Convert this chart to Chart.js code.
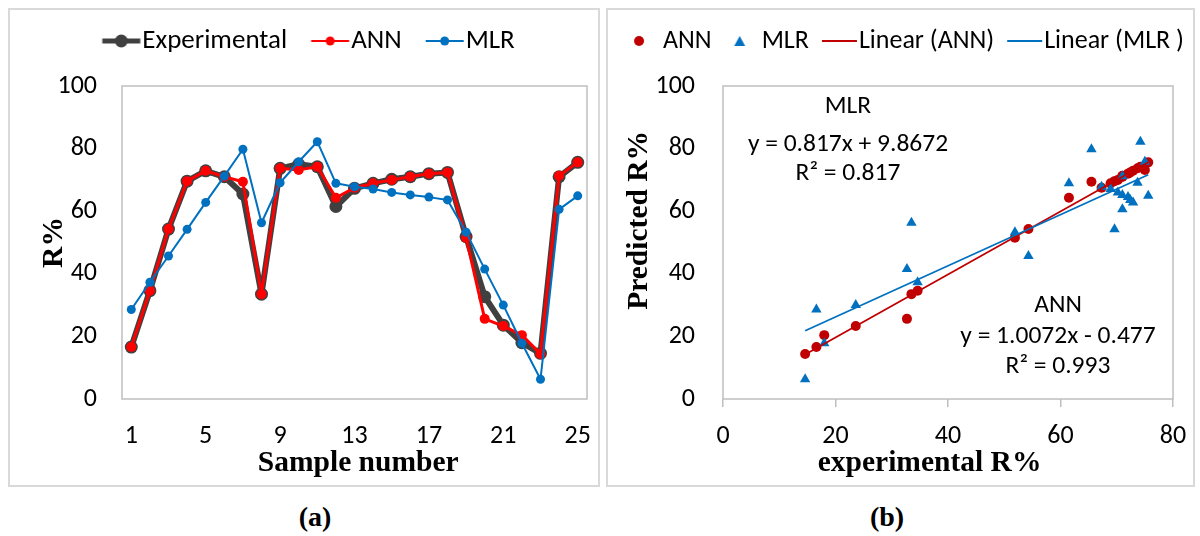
<!DOCTYPE html>
<html>
<head>
<meta charset="utf-8">
<script src="https://cdn.jsdelivr.net/npm/chart.js@4.4.1/dist/chart.umd.min.js"></script>
<style>
  body { margin: 0; background: #fff; width: 1200px; height: 536px; position: relative; overflow: hidden; }
  .panel { position: absolute; top: 8px; border: 2px solid #d9d9d9; }
  .panel canvas { display: block; }
  #pa { left: 8px; width: 588px; height: 475px; }
  #pb { left: 606px; width: 585px; height: 475px; }
  .cap { position: absolute; top: 501px; line-height: 32px; font: bold 28px "Liberation Serif", serif; transform: translateX(-50%); }
</style>
</head>
<body>
<div class="panel" id="pa"><canvas id="chartA" width="588" height="475"></canvas></div>
<div class="panel" id="pb"><canvas id="chartB" width="585" height="475"></canvas></div>
<div class="cap" style="left:315px">(a)</div>
<div class="cap" style="left:887px">(b)</div>
<script>
// valeurs
const sampleNumbers = ['1','2','3','4','5','6','7','8','9','10','11','12','13','14','15','16','17','18','19','20','21','22','23','24','25'];
const sampleTicks = ['1','5','9','13','17','21','25'];
const experimental = [16.6, 34.6, 54.3, 69.6, 72.9, 71.0, 65.5, 33.5, 73.7, 75.0, 74.2, 61.5, 67.3, 68.9, 70.2, 71.0, 72.0, 72.4, 51.9, 32.7, 23.6, 18.0, 14.6, 71.0, 75.6];
const annPred = [16.6, 34.6, 54.3, 69.6, 72.9, 71.0, 69.4, 33.5, 73.7, 73.2, 74.2, 64.3, 67.5, 68.9, 70.0, 71.0, 72.0, 72.4, 51.5, 25.6, 23.3, 20.4, 14.4, 71.3, 75.6];
const mlrPred = [28.6, 37.3, 45.7, 54.2, 62.8, 71.2, 79.8, 56.3, 69.1, 75.8, 82.2, 68.9, 67.8, 67.1, 66.0, 65.2, 64.5, 63.6, 53.3, 41.5, 30.0, 17.8, 6.3, 60.6, 64.9];
const annFit = [1.0072, -0.477];   // pente, ordonnée
const mlrFit = [0.817, 9.8672];
const annLabel = ['ANN', 'y = 1.0072x - 0.477', 'R² = 0.993'];
const mlrLabel = ['MLR', 'y = 0.817x + 9.8672', 'R² = 0.817'];

const SANS = 'Carlito, Lato, sans-serif';
const SERIF = '"Liberation Serif", serif';
const DARK = '#404040', RED = '#ff0000', BLUE = '#0070c0', DRED = '#c00000';

function mark(w, h, draw) {
  const c = document.createElement('canvas');
  c.width = w; c.height = h;
  draw(c.getContext('2d'), w, h);
  return c;
}
// image centrée sur la case de légende, symbole décalé de dx
function legendImg(dx, w, h, draw) {
  const W = Math.ceil(2 * (Math.abs(dx) + w / 2)) + 2;
  return mark(W, h, (g) => { g.translate(W / 2 + dx - w / 2, 0); draw(g, w, h); });
}
const lineDot = (color, lw, r) => legendImg(15.75, 38, 16, (g, w, h) => {
  g.strokeStyle = color; g.lineWidth = lw;
  g.beginPath(); g.moveTo(0, h / 2); g.lineTo(w, h / 2); g.stroke();
  g.fillStyle = color; g.beginPath(); g.arc(w / 2, h / 2, r, 0, Math.PI * 2); g.fill();
});
const plainLine = (color) => legendImg(10, 35, 6, (g, w, h) => {
  g.strokeStyle = color; g.lineWidth = 2;
  g.beginPath(); g.moveTo(0, h / 2); g.lineTo(w, h / 2); g.stroke();
});
const dotMark = legendImg(5.5, 10, 14, (g) => { g.fillStyle = DRED; g.beginPath(); g.arc(5, 7, 5, 0, Math.PI * 2); g.fill(); });
const triMark = legendImg(7.5, 12, 14, (g) => { g.fillStyle = BLUE; g.beginPath(); g.moveTo(6, 2); g.lineTo(11.5, 12); g.lineTo(0.5, 12); g.closePath(); g.fill(); });

// hauteur fixe de la légende, sur une seule ligne
const legendHeight = {
  id: 'legendHeight',
  beforeLayout(chart, args, opts) {
    const lg = chart.legend;
    if (lg && !lg._fixed) {
      const fit = lg.fit;
      lg.fit = function () {
        const mw = this.maxWidth;
        this.maxWidth = 5000;
        fit.call(this);
        this.maxWidth = mw; this.width = mw; this.height = opts.h;
      };
      lg._fixed = true;
    }
  }
};
const plotFrame = {
  id: 'plotFrame',
  beforeDatasetsDraw(chart) {
    const { ctx, chartArea: a } = chart;
    ctx.save();
    ctx.strokeStyle = '#bfbfbf'; ctx.lineWidth = 1.5;
    ctx.strokeRect(a.left, a.top, a.right - a.left, a.bottom - a.top);
    ctx.restore();
  }
};
const fitLabels = {
  id: 'fitLabels',
  afterDatasetsDraw(chart) {
    const ctx = chart.ctx;
    ctx.save();
    ctx.font = '25.5px ' + SANS; ctx.fillStyle = '#000';
    ctx.textAlign = 'center'; ctx.textBaseline = 'middle';
    [97, 135, 164].forEach((y, i) => ctx.fillText(mlrLabel[i], 240, y));
    [296, 327, 357].forEach((y, i) => ctx.fillText(annLabel[i], 450, y));
    ctx.restore();
  }
};

const tickFont = { family: SANS, size: 26 };
const titleFont = { family: SERIF, size: 29.5, weight: 'bold' };

// (a) évolution par échantillon
new Chart(document.getElementById('chartA'), {
  type: 'line',
  data: {
    labels: sampleNumbers,
    datasets: [
      { label: 'Experimental', data: experimental, borderColor: DARK, backgroundColor: DARK, borderWidth: 6, borderJoinStyle: 'round', borderCapStyle: 'round', pointRadius: 6.5, pointBorderWidth: 0, order: 3 },
      { label: 'ANN', data: annPred, borderColor: RED, backgroundColor: RED, borderWidth: 3, borderJoinStyle: 'round', pointRadius: 5, pointBorderWidth: 0, order: 2 },
      { label: 'MLR', data: mlrPred, borderColor: BLUE, backgroundColor: BLUE, borderWidth: 2, borderJoinStyle: 'round', pointRadius: 4.5, pointBorderWidth: 0, order: 1 }
    ]
  },
  options: {
    responsive: false, animation: false,
    layout: { padding: { left: 0, top: 13.5, right: 11, bottom: 0 } },
    plugins: {
      legendHeight: { h: 62.5 },
      tooltip: { enabled: false },
      legend: {
        labels: {
          usePointStyle: true, pointStyleWidth: 46.5, padding: 4, color: '#000', font: { family: SANS, size: 27 },
          generateLabels: () => [
            { text: 'Experimental', pointStyle: lineDot(DARK, 5, 6.5), lineWidth: 0, fillStyle: DARK, datasetIndex: 0 },
            { text: 'ANN', pointStyle: lineDot(RED, 2, 4.5), lineWidth: 0, fillStyle: RED, datasetIndex: 1 },
            { text: 'MLR', pointStyle: lineDot(BLUE, 2, 4.5), lineWidth: 0, fillStyle: BLUE, datasetIndex: 2 }
          ]
        }
      }
    },
    scales: {
      x: {
        type: 'category', offset: true,
        grid: { display: false, drawTicks: false }, border: { display: false },
        ticks: {
          autoSkip: false, maxRotation: 0, padding: 22, color: '#000', font: tickFont,
          callback(v) { const l = this.getLabelForValue(v); return sampleTicks.includes(l) ? l : null; }
        },
        title: { display: true, text: ' Sample number', color: '#000', font: titleFont, padding: { top: 0, bottom: 4 } },
        afterFit(s) { s.height = 86; s.paddingLeft = 0; s.paddingRight = 0; }
      },
      y: {
        min: 0, max: 100,
        grid: { display: false, drawTicks: false }, border: { display: false },
        ticks: { stepSize: 20, padding: 25, color: '#000', font: tickFont },
        title: { display: true, text: 'R%', color: '#000', font: titleFont, padding: { top: 27, bottom: 0 } },
        afterFit(s) { s.width = 112; s.paddingTop = 0; s.paddingBottom = 0; }
      }
    }
  },
  plugins: [legendHeight, plotFrame]
});

// (b) prédit vs expérimental
const annPoints = experimental.map((x, i) => ({ x, y: annPred[i] }));
const mlrPoints = experimental.map((x, i) => ({ x, y: mlrPred[i] }));
const xMin = Math.min(...experimental), xMax = Math.max(...experimental);
const fitLine = (f) => [{ x: xMin, y: f[0] * xMin + f[1] }, { x: xMax, y: f[0] * xMax + f[1] }];

new Chart(document.getElementById('chartB'), {
  type: 'scatter',
  data: {
    datasets: [
      { label: 'ANN', data: annPoints, backgroundColor: DRED, pointRadius: 5, pointBorderWidth: 0, order: 4 },
      { label: 'MLR', data: mlrPoints, backgroundColor: BLUE, pointStyle: 'triangle', pointRadius: 6, pointBorderWidth: 0, order: 3 },
      { label: 'Linear (ANN)', data: fitLine(annFit), showLine: true, borderColor: DRED, borderWidth: 1.8, pointRadius: 0, order: 2 },
      { label: 'Linear (MLR )', data: fitLine(mlrFit), showLine: true, borderColor: BLUE, borderWidth: 1.8, pointRadius: 0, order: 1 }
    ]
  },
  options: {
    responsive: false, animation: false,
    layout: { padding: { left: 0, top: 14, right: 0, bottom: 0 } },
    plugins: {
      legendHeight: { h: 62 },
      tooltip: { enabled: false },
      legend: {
        labels: {
          usePointStyle: true, pointStyleWidth: 33, padding: 4, color: '#000', font: tickFont,
          generateLabels: () => [
            { text: 'ANN', pointStyle: dotMark, lineWidth: 0, fillStyle: DRED, datasetIndex: 0 },
            { text: 'MLR', pointStyle: triMark, lineWidth: 0, fillStyle: BLUE, datasetIndex: 1 },
            { text: 'Linear (ANN)', pointStyle: plainLine(DRED), lineWidth: 0, fillStyle: DRED, datasetIndex: 2 },
            { text: 'Linear (MLR )', pointStyle: plainLine(BLUE), lineWidth: 0, fillStyle: BLUE, datasetIndex: 3 }
          ]
        }
      }
    },
    scales: {
      x: {
        type: 'linear', min: 0, max: 80,
        grid: { drawOnChartArea: false, drawTicks: true, tickLength: 8, color: '#bfbfbf', lineWidth: 1.5 }, border: { display: false },
        ticks: { stepSize: 20, padding: 14, color: '#000', font: tickFont },
        title: { display: true, text: 'experimental R%     ', color: '#000', font: titleFont, padding: { top: 0, bottom: 4 } },
        afterFit(s) { s.height = 86; s.paddingLeft = 0; s.paddingRight = 0; }
      },
      y: {
        min: 0, max: 100,
        grid: { display: false, drawTicks: false }, border: { display: false },
        ticks: { stepSize: 20, padding: 28, color: '#000', font: tickFont },
        title: { display: true, text: '      Predicted R%', color: '#000', font: titleFont, padding: { top: 14, bottom: 0 } },
        afterFit(s) { s.width = 115; s.paddingTop = 0; s.paddingBottom = 0; }
      },
      // marge droite de la zone de tracé
      yr: {
        type: 'linear', position: 'right', display: true,
        grid: { display: false }, border: { display: false }, ticks: { display: false },
        afterFit(s) { s.width = 20; s.paddingTop = 0; s.paddingBottom = 0; }
      }
    }
  },
  plugins: [legendHeight, plotFrame, fitLabels]
});
</script>
</body>
</html>
